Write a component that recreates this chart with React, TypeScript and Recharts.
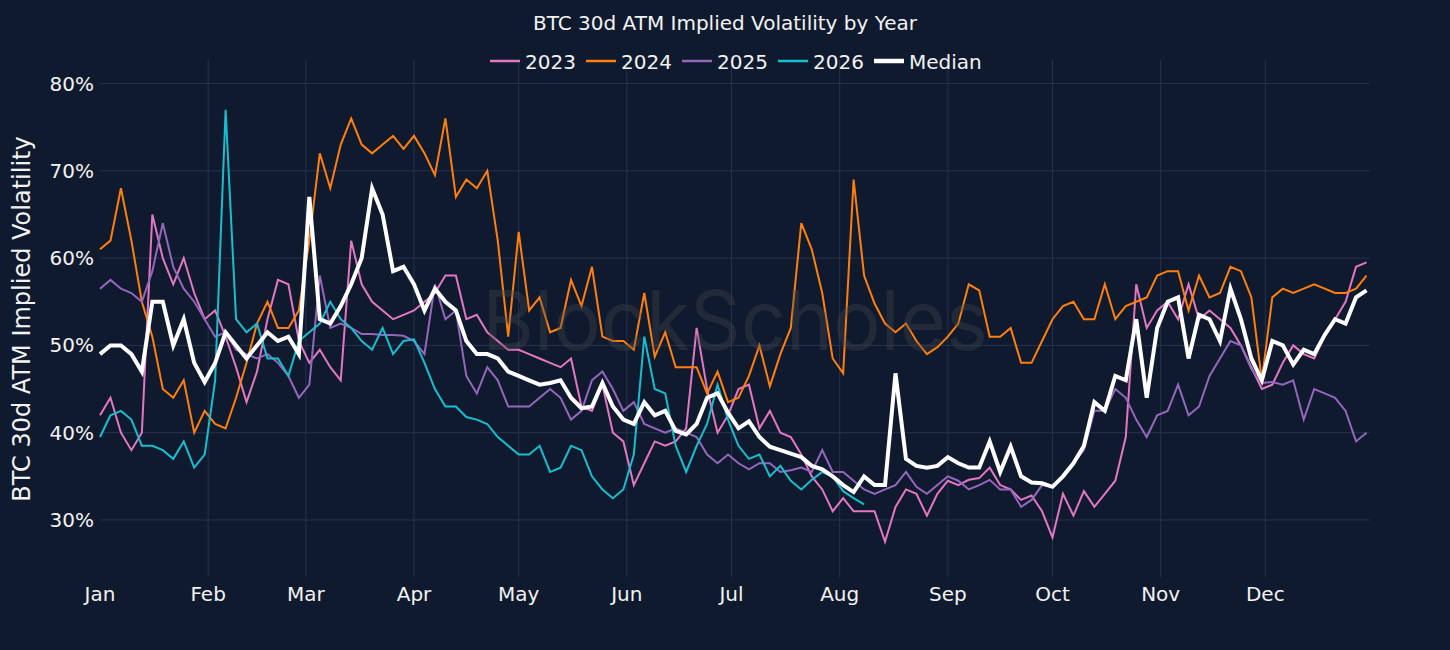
import { LineChart, Line, XAxis, YAxis, CartesianGrid } from "recharts";

// one reading every 3 days, from Jan 1
const STEP = 3;

const monthDays = [0, 31, 59, 90, 120, 151, 181, 212, 243, 273, 304, 334];
const monthNames = ["Jan", "Feb", "Mar", "Apr", "May", "Jun", "Jul", "Aug", "Sep", "Oct", "Nov", "Dec"];
const gridDays = monthDays.slice(1);
const yTicks = [30, 40, 50, 60, 70, 80];
const X_DOMAIN = [0, 364];
const Y_DOMAIN = [23.47, 82.69];

const vol2023 = [
  42, 44, 40, 38, 40, 65, 60, 57, 60, 56,
  53, 54, 51, 47.5, 43.5, 47, 53, 57.5, 57, 50.5,
  48, 49.5, 47.5, 46, 62, 57, 55, 54, 53, 53.5,
  54, 55, 56, 58, 58, 53, 53.5, 51.5, 50.5, 49.5,
  49.5, 49, 48.5, 48, 47.5, 48.5, 43, 42.5, 45.5, 40,
  39, 34, 36.5, 39, 38.5, 39, 40.5, 52, 45, 40,
  42, 45, 45.5, 40.5, 42.5, 40, 39.5, 37.5, 35, 33.5,
  31, 32.5, 31, 31, 31, 27.5, 31.5, 33.5, 33, 30.5,
  33, 34.5, 34, 34.6, 34.8, 36, 34, 33.5, 32.3, 32.8,
  31, 28, 33, 30.5, 33.3, 31.5, 33, 34.5, 39.5, 57,
  52, 54, 55, 53, 57, 53, 54, 53, 52, 50,
  47.5, 45, 45.5, 48, 50, 49, 48.5, 51, 53, 55,
  59, 59.5,
];

const vol2024 = [
  61, 62, 68, 62, 55, 51, 45, 44, 46, 40,
  42.5, 41, 40.5, 44, 48, 52.5, 55, 52, 52, 54,
  62, 72, 68, 73, 76, 73, 72, 73, 74, 72.5,
  74, 72, 69.5, 76, 67, 69, 68, 70, 62, 51,
  63, 54, 55.5, 51.5, 52, 57.5, 54.5, 59, 51, 50.5,
  50.5, 49.5, 56, 48.7, 51.5, 47.5, 47.5, 47.5, 44.5, 47,
  43.5, 44, 46.5, 50, 45.3, 49, 52, 64, 61, 56,
  48.5, 46.8, 69, 58, 54.8, 52.5, 51.5, 52.5, 50.5, 49,
  49.8, 51, 52.5, 57, 56.3, 51, 51, 52, 48, 48,
  50.5, 53, 54.5, 55, 53, 53, 57, 53, 54.5, 55,
  55.5, 58, 58.5, 58.5, 54, 58, 55.5, 56, 59, 58.5,
  55.5, 46, 55.5, 56.5, 56, 56.5, 57, 56.5, 56, 56,
  56.5, 58,
];

const vol2025 = [
  56.5, 57.5, 56.5, 56, 55, 58.5, 64, 59, 56.5, 55,
  53, 51, 51.5, 49.5, 49, 48.5, 49, 48, 46.5, 44,
  45.5, 58, 52, 52.5, 52, 51.3, 51.3, 51.2, 51.2, 51.1,
  50.5, 49, 57, 53, 54, 46.5, 44.5, 47.5, 46, 43,
  43, 43, 44, 45, 44, 41.5, 42.5, 46, 47, 45,
  42.5, 43.5, 41, 40.5, 40, 40.5, 40, 39.5, 37.5, 36.5,
  37.5, 36.5, 35.8, 36.5, 36.5, 35.5, 35.7, 36, 35.5, 38,
  35.5, 35.5, 34.5, 33.5, 33, 33.5, 34, 35.5, 33.8, 33,
  34, 35, 34.5, 33.5, 34, 34.6, 33.5, 33.5, 31.5, 32.3,
  34, 33.8, 35, 36.5, 38, 42.5, 42.5, 45, 44, 41.5,
  39.5, 42, 42.5, 45.5, 42, 43, 46.5, 48.5, 50.5, 50,
  47.3, 45.7, 45.8, 45.5, 46, 41.5, 45, 44.5, 44, 42.5,
  39, 40,
];

// 2026 stops in early August
const vol2026 = [
  39.5, 42, 42.5, 41.5, 38.5, 38.5, 38, 37, 39, 36,
  37.5, 46, 77, 53, 51.5, 52.5, 48.5, 48.5, 46.5, 50.5,
  51.5, 52.5, 55, 53, 52, 50.5, 49.5, 52, 49, 50.5,
  50.7, 48, 45, 43, 43, 41.8, 41.5, 41, 39.5, 38.5,
  37.5, 37.5, 38.5, 35.5, 36, 38.5, 38, 35, 33.5, 32.5,
  33.5, 37.5, 51, 45, 44.5, 38.5, 35.5, 38.5, 41, 45.5,
  41.5, 38.5, 37, 37.5, 35, 36.2, 34.5, 33.5, 34.6, 35.5,
  35, 33.3, 32.5, 31.8,
];

const volMedian = [
  49, 50, 50, 49, 47, 55, 55, 50, 53, 48,
  45.8, 48, 51.5, 50, 48.5, 50, 51.5, 50.5, 51, 49,
  67, 53, 52.5, 54.5, 57, 60, 68, 65, 58.5, 59,
  57, 54, 56.5, 55, 54, 50.5, 49, 49, 48.5, 47,
  46.5, 46, 45.5, 45.7, 46, 44, 42.8, 43, 45.7, 43,
  41.5, 41, 43.5, 42, 42.5, 40.2, 39.8, 41, 44, 44.5,
  42.3, 40.5, 41.3, 39.5, 38.4, 38, 37.6, 37.2, 36.2, 35.8,
  35, 34, 33.2, 35, 34, 34, 46.8, 37, 36.2, 36,
  36.2, 37.2, 36.5, 36, 36, 39, 35.5, 38.4, 35, 34.3,
  34.2, 33.8, 35, 36.5, 38.5, 43.5, 42.5, 46.5, 46, 53,
  44, 52, 55, 55.5, 48.5, 53.5, 53, 50.5, 56.5, 53,
  48.5, 46, 50.5, 50, 47.8, 49.5, 49, 51.2, 53, 52.5,
  55.5, 56.3,
];

const series = [
  { key: "y2023", name: "2023", color: "#e377c2", width: 2 },
  { key: "y2024", name: "2024", color: "#ff7f0e", width: 2 },
  { key: "y2025", name: "2025", color: "#9467bd", width: 2 },
  { key: "y2026", name: "2026", color: "#17becf", width: 2 },
  { key: "median", name: "Median", color: "#ffffff", width: 4 },
];

const rows = volMedian.map((m, i) => ({
  day: i * STEP,
  y2023: vol2023[i],
  y2024: vol2024[i],
  y2025: vol2025[i],
  y2026: i < vol2026.length ? vol2026[i] : null,
  median: m,
}));

const BG = "#101a2e";
const GRID = "#25324f";
const FONT = "'DejaVu Sans', Verdana, sans-serif";

// grid lines only at the month starts (no Jan edge) and at the % ticks,
// read through the axis scale when it is there
const axisPx = (axis: any, v: number, fallback: number) => {
  const s = axis && axis.scale;
  if (typeof s === "function") {
    const r = s(v);
    if (Number.isFinite(r)) return r;
  }
  return fallback;
};

const vGrid = ({ xAxis, offset }: any) =>
  gridDays.map((d) =>
    axisPx(
      xAxis,
      d,
      offset.left + ((d - X_DOMAIN[0]) / (X_DOMAIN[1] - X_DOMAIN[0])) * offset.width
    )
  );

const hGrid = ({ yAxis, offset }: any) =>
  yTicks.map((v) =>
    axisPx(
      yAxis,
      v,
      offset.top + ((Y_DOMAIN[1] - v) / (Y_DOMAIN[1] - Y_DOMAIN[0])) * offset.height
    )
  );

export default function App() {
  return (
    <div
      style={{
        position: "fixed",
        left: 0,
        top: 0,
        width: 1450,
        height: 650,
        background: BG,
        fontFamily: FONT,
      }}
    >
      <LineChart
        width={1450}
        height={650}
        data={rows}
        margin={{ top: 60, right: 80, bottom: 33, left: 0 }}
      >
        <CartesianGrid
          stroke={GRID}
          strokeWidth={1}
          verticalCoordinatesGenerator={vGrid}
          horizontalCoordinatesGenerator={hGrid}
        />

        <XAxis
          dataKey="day"
          type="number"
          domain={X_DOMAIN}
          ticks={monthDays}
          interval={0}
          height={40}
          axisLine={false}
          tickLine={false}
          tickSize={0}
          tickMargin={10}
          tickFormatter={(d) => monthNames[monthDays.indexOf(d)]}
          tick={{ fill: "#f2f2f2", fontSize: 20, fontFamily: FONT }}
        />

        <YAxis
          type="number"
          width={100}
          domain={Y_DOMAIN}
          ticks={yTicks}
          allowDataOverflow
          axisLine={false}
          tickLine={false}
          tickSize={0}
          tickMargin={6}
          tickFormatter={(v) => `${v}%`}
          tick={{ fill: "#f2f2f2", fontSize: 20, fontFamily: FONT }}
        />

        {series.map((s) => (
          <Line
            key={s.key}
            dataKey={s.key}
            name={s.name}
            type="linear"
            stroke={s.color}
            strokeWidth={s.width}
            dot={false}
            activeDot={false}
            connectNulls={false}
            isAnimationActive={false}
          />
        ))}
      </LineChart>

      <svg
        width={1450}
        height={650}
        style={{ position: "absolute", left: 0, top: 0, pointerEvents: "none" }}
      >
        <text
          x={735}
          y={350}
          textAnchor="middle"
          fontFamily="Inter, 'Open Sans', sans-serif"
          fontSize={83}
          textLength={506}
          lengthAdjust="spacingAndGlyphs"
          fill="#46484e"
          fillOpacity={0.35}
        >
          BlockScholes
        </text>

        <text
          x={725}
          y={30}
          textAnchor="middle"
          fontFamily={FONT}
          fontSize={20}
          fill="#f2f2f2"
        >
          BTC 30d ATM Implied Volatility by Year
        </text>

        {series.map((s, i) => {
          const x0 = 490 + i * 96;
          return (
            <g key={s.key}>
              <line
                x1={x0}
                x2={x0 + 30}
                y1={61}
                y2={61}
                stroke={s.color}
                strokeWidth={s.width === 4 ? 4.5 : 2.5}
              />
              <text
                x={x0 + 35}
                y={69}
                fontFamily={FONT}
                fontSize={20}
                fill="#f2f2f2"
              >
                {s.name}
              </text>
            </g>
          );
        })}

        <text
          x={30}
          y={319}
          textAnchor="middle"
          transform="rotate(-90, 30, 319)"
          fontFamily={FONT}
          fontSize={24}
          fill="#f2f2f2"
        >
          BTC 30d ATM Implied Volatility
        </text>
      </svg>
    </div>
  );
}
